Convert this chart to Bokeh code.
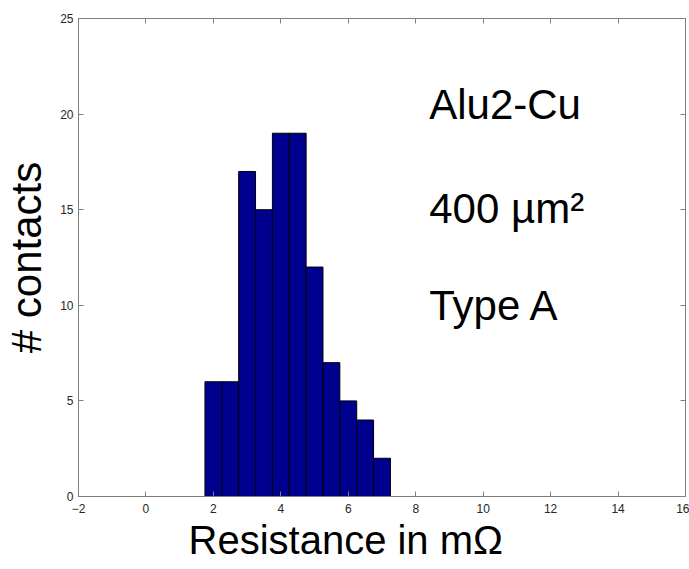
from bokeh.plotting import figure
from bokeh.models import Range1d, LinearAxis, FixedTicker, Label, Title
from bokeh.embed import file_html
from bokeh.resources import INLINE

# Data
bin_centers = [2.0, 2.5, 3.0, 3.5, 4.0, 4.5, 5.0, 5.5, 6.0, 6.5, 7.0]
counts = [6, 6, 17, 15, 19, 19, 12, 7, 5, 4, 2]
bin_width = 0.5
x_ticks = [-2, 0, 2, 4, 6, 8, 10, 12, 14, 16]
y_ticks = [0, 5, 10, 15, 20, 25]
annotations = ["Alu2-Cu", "400 µm²", "Type A"]
annotation_y = [20.5, 15.05, 10.0]
x_label = "Resistance in mΩ"
y_label = "# contacts"

FONT = "Liberation Sans"
AXIS_COLOR = "#7f7f7f"

p = figure(width=689, height=569, output_backend="svg", toolbar_location=None,
           x_range=Range1d(-2, 16), y_range=Range1d(0, 25),
           min_border_left=78, min_border_right=4, min_border_top=18, min_border_bottom=73,
           x_axis_location=None, y_axis_location=None)
p.grid.visible = False
p.outline_line_color = AXIS_COLOR
p.background_fill_color = "white"
p.border_fill_color = "white"

p.vbar(x=bin_centers, width=bin_width, top=counts, bottom=0,
       fill_color="#00008F", line_color="black", line_width=1)

def make_axis(ticks, show_labels):
    ax = LinearAxis(ticker=FixedTicker(ticks=ticks))
    ax.axis_line_color = AXIS_COLOR
    ax.major_tick_line_color = AXIS_COLOR
    ax.major_tick_in = 5
    ax.major_tick_out = 0
    ax.minor_tick_line_color = None
    ax.major_label_text_font = FONT
    ax.major_label_text_font_size = "12px"
    ax.major_label_text_color = "#262626"
    if not show_labels:
        ax.major_label_text_color = None
        ax.major_label_text_font_size = "0px"
    return ax

xb = make_axis(x_ticks, True)
xb.major_label_standoff = 7
yl = make_axis(y_ticks, True)
yl.major_label_standoff = 5
yl.axis_label = y_label
yl.axis_label_text_font = FONT
yl.axis_label_text_font_size = "42px"
yl.axis_label_text_font_style = "normal"
yl.axis_label_text_color = "black"
yl.axis_label_standoff = 7
xt = make_axis(x_ticks, False)
yr = make_axis(y_ticks, False)
p.add_layout(xb, "below")
p.add_layout(yl, "left")
p.add_layout(xt, "above")
p.add_layout(yr, "right")

xt_title = Title(text=x_label, align="left", offset=110, text_font=FONT,
                 text_font_size="40px", text_font_style="normal", text_color="black",
                 standoff=0)
p.add_layout(xt_title, "below")

for txt, yy in zip(annotations, annotation_y):
    p.add_layout(Label(x=8.4, y=yy, text=txt, text_font=FONT, text_font_size="42px",
                       text_color="black", text_baseline="alphabetic", text_align="left"))

open("out.html", "w").write(file_html(p, INLINE))
